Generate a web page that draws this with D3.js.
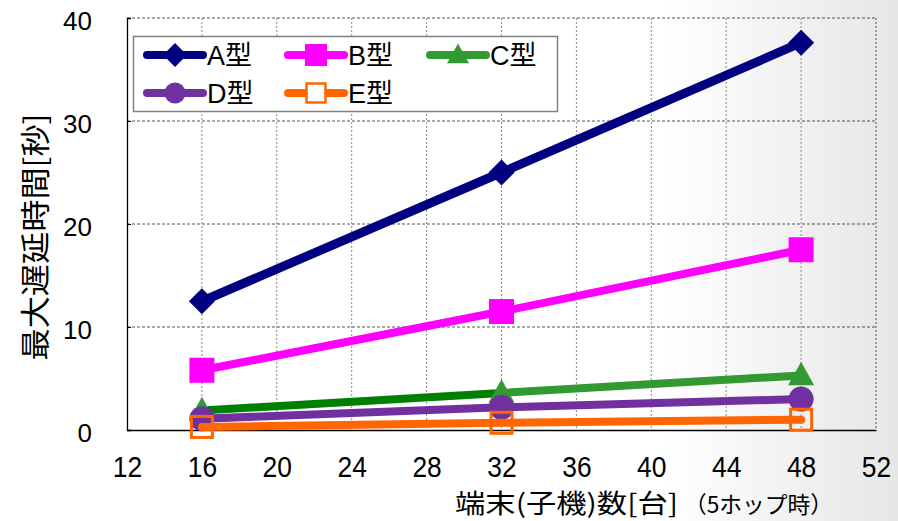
<!DOCTYPE html>
<html>
<head>
<meta charset="utf-8">
<script src="https://cdn.jsdelivr.net/npm/d3@7"></script>
<style>
  html, body { margin: 0; padding: 0; background: #fff; }
  svg { display: block; }
  text { font-family: "Liberation Sans", Arial, "Noto Sans CJK JP", sans-serif; fill: #000; }
  .jp { font-family: "Noto Sans CJK JP", "Noto Sans CJK SC", sans-serif; }
</style>
</head>
<body>
<svg id="chart" width="898" height="521"></svg>
<script>
// Number of terminals (x) and maximum delay in seconds for each type
const terminals = [16, 32, 48];
const seriesNames = ["A型", "B型", "C型", "D型", "E型"];
const typeA = [12.5, 25.0, 37.6];
const typeB = [5.8, 11.5, 17.5];
const typeC = [1.9, 3.6, 5.3];
const typeD = [1.1, 2.2, 3.0];
const typeE = [0.3, 0.7, 1.0];
const xTicks = [12, 16, 20, 24, 28, 32, 36, 40, 44, 48, 52];
const yTicks = [0, 10, 20, 30, 40];

const W = 898, H = 521;
const svg = d3.select("#chart");
const defs = svg.append("defs");

// soft grey fade toward the right edge
const bg = defs.append("linearGradient").attr("id", "bgFade")
  .attr("x1", 0).attr("y1", 0).attr("x2", 1).attr("y2", 0);
bg.append("stop").attr("offset", 0.74).attr("stop-color", "#ffffff");
bg.append("stop").attr("offset", 1).attr("stop-color", "#e6e6e6");
svg.append("rect").attr("width", W).attr("height", H).attr("fill", "url(#bgFade)");

const x = d3.scaleLinear().domain([12, 52]).range([127, 876]);
const y = d3.scaleLinear().domain([0, 40]).range([430, 18]);

// green line: darker first segment, lighter second
const gG = defs.append("linearGradient").attr("id", "greenLine")
  .attr("gradientUnits", "userSpaceOnUse")
  .attr("x1", x(16)).attr("y1", 0).attr("x2", x(48)).attr("y2", 0);
gG.append("stop").attr("offset", 0.5).attr("stop-color", "#008000");
gG.append("stop").attr("offset", 0.5).attr("stop-color", "#339933");

const series = [
  { name: seriesNames[0], values: typeA, color: "#000080", stroke: "#000080", width: 9, shape: "diamond" },
  { name: seriesNames[1], values: typeB, color: "#FF00FF", stroke: "#FF00FF", width: 8, shape: "square" },
  { name: seriesNames[2], values: typeC, color: "#339933", stroke: "url(#greenLine)", width: 8, shape: "triangle" },
  { name: seriesNames[3], values: typeD, color: "#7030A0", stroke: "#7030A0", width: 8, shape: "circle" },
  { name: seriesNames[4], values: typeE, color: "#FF6600", stroke: "#FF6600", width: 8, shape: "hollow" }
];

// gridlines
const grid = svg.append("g");
grid.selectAll("line.v").data(xTicks.filter(t => t > 12))
  .join("line")
  .attr("x1", d => x(d)).attr("x2", d => x(d))
  .attr("y1", y(40)).attr("y2", y(0))
  .attr("stroke", d => d === 52 ? "#555" : "#8a8a8a")
  .attr("stroke-width", 1)
  .attr("stroke-dasharray", "2,2");
grid.selectAll("line.h").data(yTicks.filter(t => t > 0))
  .join("line")
  .attr("x1", x(12)).attr("x2", x(52))
  .attr("y1", d => y(d)).attr("y2", d => y(d))
  .attr("stroke", "#555")
  .attr("stroke-width", 1)
  .attr("stroke-dasharray", "3,2");

// axes
const xAxis = svg.append("g").attr("transform", `translate(0,${y(0)})`)
  .call(d3.axisBottom(x).tickValues(xTicks).tickSize(0).tickPadding(0));
xAxis.select(".domain").attr("stroke", "#000").attr("stroke-width", 1.3);
xAxis.selectAll("text")
  .attr("y", 47).attr("dy", 0)
  .style("font-size", "30px")
  .attr("transform", "scale(0.88,1)");

const yAxis = svg.append("g").attr("transform", `translate(${x(12)},0)`)
  .call(d3.axisLeft(y).tickValues(yTicks).tickSize(-4).tickPadding(0));
yAxis.select(".domain").attr("stroke", "#000").attr("stroke-width", 1.3);
yAxis.selectAll(".tick line").attr("stroke", "#000");
yAxis.selectAll("text")
  .attr("x", -35).attr("dy", "0.45em")
  .style("font-size", "26px");

// axis titles
svg.append("text").attr("class", "jp")
  .attr("transform", "translate(46,237) rotate(-90)")
  .attr("text-anchor", "middle")
  .attr("textLength", 247).attr("lengthAdjust", "spacingAndGlyphs")
  .style("font-size", "30px")
  .text("最大遅延時間[秒]");

svg.append("text").attr("class", "jp")
  .attr("x", 455).attr("y", 513)
  .attr("textLength", 223).attr("lengthAdjust", "spacingAndGlyphs")
  .style("font-size", "26px")
  .text("端末(子機)数[台]");
svg.append("text").attr("class", "jp")
  .attr("x", 684).attr("y", 513)
  .attr("textLength", 149).attr("lengthAdjust", "spacingAndGlyphs")
  .style("font-size", "23px")
  .text("（5ホップ時）");

// markers
function marker(g, shape, color, cx, cy, s) {
  if (shape === "diamond") {
    g.append("path").attr("d", `M${cx},${cy - s}L${cx + s},${cy}L${cx},${cy + s}L${cx - s},${cy}Z`).attr("fill", color);
  } else if (shape === "square") {
    g.append("rect").attr("x", cx - s).attr("y", cy - s).attr("width", 2 * s).attr("height", 2 * s).attr("fill", color);
  } else if (shape === "triangle") {
    g.append("path").attr("d", `M${cx},${cy - s * 1.05}L${cx + s},${cy + s * 0.75}L${cx - s},${cy + s * 0.75}Z`).attr("fill", color);
  } else if (shape === "circle") {
    g.append("circle").attr("cx", cx).attr("cy", cy).attr("r", s).attr("fill", color);
  } else {
    g.append("rect").attr("x", cx - s + 1.5).attr("y", cy - s + 1.5).attr("width", 2 * s - 3).attr("height", 2 * s - 3)
      .attr("fill", "none").attr("stroke", color).attr("stroke-width", 3);
  }
}
const markerSize = { diamond: 13, square: 12.5, triangle: 13, circle: 12.5, hollow: 12 };

const line = d3.line().x(d => x(d[0])).y(d => y(d[1]));
const plot = svg.append("g");
series.forEach(s => {
  const pts = terminals.map((t, i) => [t, s.values[i]]);
  const g = plot.append("g");
  if (s.shape !== "hollow") {
    g.append("path").datum(pts).attr("d", line)
      .attr("fill", "none").attr("stroke", s.stroke).attr("stroke-width", s.width)
      .attr("stroke-linecap", "round").attr("stroke-linejoin", "round");
    pts.forEach(p => marker(g, s.shape, s.color, x(p[0]), y(p[1]), markerSize[s.shape]));
  } else {
    pts.forEach(p => marker(g, s.shape, s.color, x(p[0]), y(p[1]), markerSize[s.shape]));
    g.append("path").datum(pts).attr("d", line)
      .attr("fill", "none").attr("stroke", s.stroke).attr("stroke-width", s.width)
      .attr("stroke-linecap", "round").attr("stroke-linejoin", "round");
  }
});

// legend
const legend = svg.append("g");
legend.append("rect").attr("x", 133.5).attr("y", 36.5).attr("width", 424).attr("height", 75)
  .attr("fill", "#fff").attr("stroke", "#808080").attr("stroke-width", 1.5);
const legendPos = [[147, 55], [288, 55], [430, 55], [147, 93], [288, 93]];
series.forEach((s, i) => {
  const [lx, ly] = legendPos[i];
  const g = legend.append("g");
  g.append("line").attr("x1", lx).attr("x2", lx + 56).attr("y1", ly).attr("y2", ly)
    .attr("stroke", s.color).attr("stroke-width", 8).attr("stroke-linecap", "round");
  const ms = { diamond: 12, square: 11, triangle: 11, circle: 10.5, hollow: 9.5 }[s.shape];
  if (s.shape === "hollow") {
    g.append("rect").attr("x", lx + 28 - ms).attr("y", ly - ms).attr("width", 2 * ms).attr("height", 2 * ms)
      .attr("fill", "#fff").attr("stroke", s.color).attr("stroke-width", 2.5);
  } else {
    marker(g, s.shape, s.color, lx + 28, ly, ms);
  }
  g.append("text").attr("x", lx + 60).attr("y", ly).attr("dy", "0.36em")
    .style("font-size", "27px")
    .text(s.name);
});
</script>
</body>
</html>
